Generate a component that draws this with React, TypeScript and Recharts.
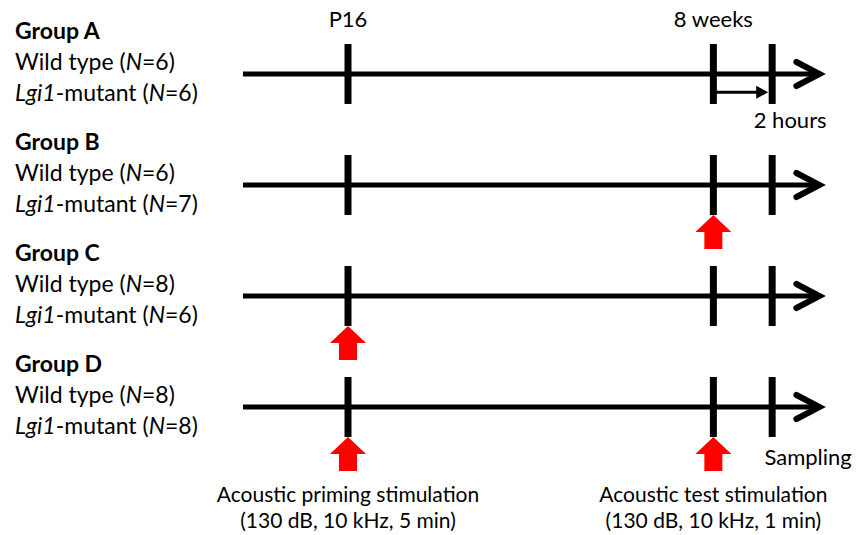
import { ScatterChart, Scatter, XAxis, YAxis, ReferenceLine } from "recharts"

const groups = ["Group A", "Group B", "Group C", "Group D"]
const wildTypeN = [6, 6, 8, 8]
const mutantN = [6, 7, 6, 8]

// schematic positions of the time points along each timeline
const timeLabels = ["P16", "8 weeks", "Sampling"]
const timePos = [1, 4.48, 5.04]
const lineStart = 0
const lineEnd = 5.49

// which groups got the priming stimulus (P16) and the test stimulus (8 weeks)
const primingStim = [false, false, true, true]
const testStim = [false, true, false, true]

const primingText = ["Acoustic priming stimulation", "(130 dB, 10 kHz, 5 min)"]
const testText = ["Acoustic test stimulation", "(130 dB, 10 kHz, 1 min)"]
const intervalText = "2 hours"

const FONT = "Lato, 'Open Sans', sans-serif"

const GroupTick = (props: any) => {
    const { y, payload } = props
    const i = payload.value
    return (
        <g fontFamily={FONT} fontSize={23} fill="#000">
            <text x={15} y={y - 35} fontWeight="bold">{groups[i]}</text>
            <text x={15} y={y - 4}>
                Wild type (<tspan fontStyle="italic">N</tspan>={wildTypeN[i]})
            </text>
            <text x={15} y={y + 27}>
                <tspan fontStyle="italic">Lgi1</tspan>-mutant (<tspan fontStyle="italic">N</tspan>={mutantN[i]})
            </text>
        </g>
    )
}

// open chevron at the end of each timeline
const Chevron = (props: any) => {
    const { cx, cy } = props
    return (
        <path
            d={`M${cx - 23},${cy - 12} L${cx},${cy} L${cx - 23},${cy + 12}`}
            stroke="#000"
            strokeWidth={6}
            fill="none"
            strokeLinecap="round"
        />
    )
}

// red block arrow pointing up at a stimulation time
const RedArrow = (props: any) => {
    const { cx, cy } = props
    const tip = cy + 30
    const base = tip + 17
    const end = tip + 34
    return (
        <path
            d={`M${cx},${tip} L${cx + 18},${base} L${cx + 9},${base} L${cx + 9},${end} L${cx - 9},${end} L${cx - 9},${base} L${cx - 18},${base} Z`}
            fill="#ff0000"
        />
    )
}

const SmallHead = (props: any) => {
    const { cx, cy } = props
    return <path d={`M${cx - 4},${cy} L${cx - 16},${cy - 6.5} L${cx - 16},${cy + 6.5} Z`} fill="#000" />
}

const TextMark = (props: any) => {
    const { cx, cy, payload } = props
    return (
        <text
            x={cx + payload.dx}
            y={cy + payload.dy}
            textAnchor={payload.anchor}
            fontFamily={FONT}
            fontSize={payload.size}
            fill="#000"
        >
            {payload.text}
        </text>
    )
}

export default function App() {
    const last = groups.length - 1
    const intervalY = 0.165

    const ends = groups.map((_, i) => ({ x: lineEnd, y: i }))
    const stims = groups.flatMap((_, i) => [
        ...(primingStim[i] ? [{ x: timePos[0], y: i }] : []),
        ...(testStim[i] ? [{ x: timePos[1], y: i }] : [])
    ])

    const labels = [
        { x: timePos[0], y: 0, dx: 0, dy: -47, size: 22, anchor: "middle", text: timeLabels[0] },
        { x: timePos[1], y: 0, dx: 0, dy: -47, size: 22, anchor: "middle", text: timeLabels[1] },
        { x: timePos[2], y: 0, dx: 18, dy: 54, size: 22, anchor: "middle", text: intervalText },
        { x: timePos[2], y: last, dx: 36, dy: 58, size: 22, anchor: "middle", text: timeLabels[2] },
        { x: timePos[0], y: last, dx: 0, dy: 95, size: 21, anchor: "middle", text: primingText[0] },
        { x: timePos[0], y: last, dx: 0, dy: 121, size: 21, anchor: "middle", text: primingText[1] },
        { x: timePos[1], y: last, dx: 0, dy: 95, size: 21, anchor: "middle", text: testText[0] },
        { x: timePos[1], y: last, dx: 0, dy: 121, size: 21, anchor: "middle", text: testText[1] }
    ]

    return (
        <div style={{ position: "absolute", left: 0, top: 0, width: 857, height: 535, background: "#fff" }}>
            <ScatterChart width={857} height={535} margin={{ top: 0, right: 0, bottom: 0, left: 0 }}>
                <XAxis type="number" dataKey="x" domain={[0, 5.848]} hide />
                <YAxis
                    type="number"
                    dataKey="y"
                    domain={[-0.6667, 4.1532]}
                    reversed
                    ticks={[0, 1, 2, 3]}
                    width={243}
                    axisLine={false}
                    tickLine={false}
                    tick={(p: any) => <GroupTick {...p} />}
                />

                {/* timelines */}
                {groups.map((g, i) => (
                    <ReferenceLine
                        key={"line" + g}
                        segment={[{ x: lineStart, y: i }, { x: lineEnd, y: i }]}
                        stroke="#000"
                        strokeWidth={5}
                    />
                ))}

                {/* time point ticks */}
                {groups.map((g, i) =>
                    timePos.map((t, j) => (
                        <ReferenceLine
                            key={"tick" + g + j}
                            segment={[{ x: t, y: i - 0.27 }, { x: t, y: i + 0.27 }]}
                            stroke="#000"
                            strokeWidth={7}
                        />
                    ))
                )}

                {/* 2 hours interval */}
                <ReferenceLine
                    segment={[{ x: timePos[1], y: intervalY }, { x: timePos[2] - 0.1, y: intervalY }]}
                    stroke="#000"
                    strokeWidth={3}
                />
                <Scatter data={[{ x: timePos[2], y: intervalY }]} shape={<SmallHead />} isAnimationActive={false} />

                <Scatter data={ends} shape={<Chevron />} isAnimationActive={false} />
                <Scatter data={stims} shape={<RedArrow />} isAnimationActive={false} />
                <Scatter data={labels} shape={<TextMark />} isAnimationActive={false} />
            </ScatterChart>
        </div>
    )
}
